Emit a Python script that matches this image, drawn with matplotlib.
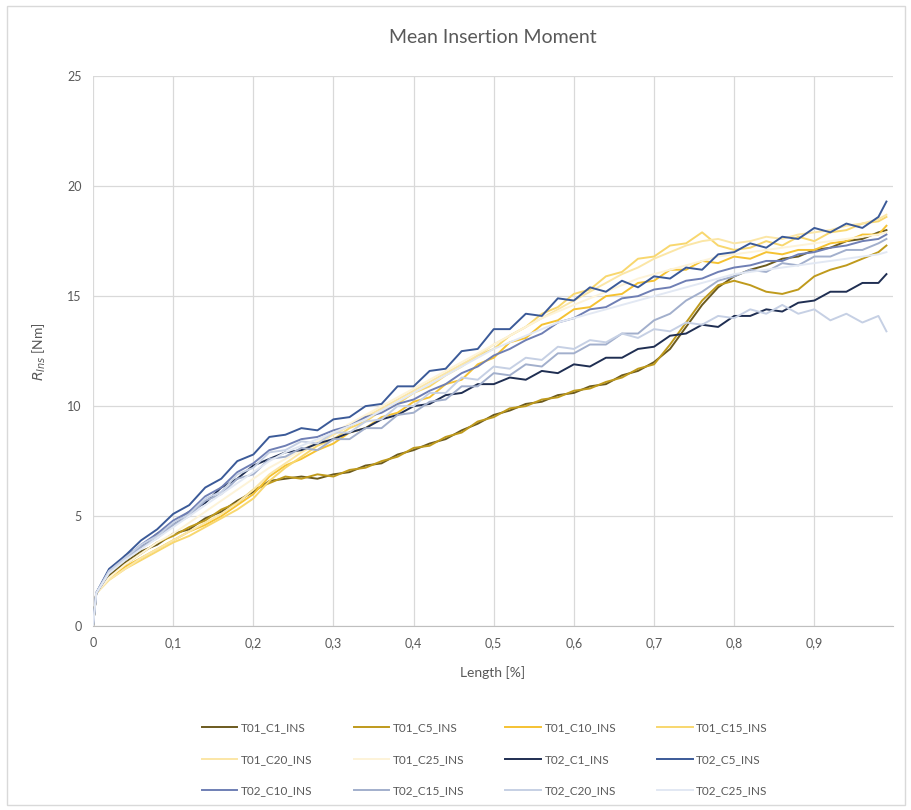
import matplotlib.pyplot as plt
from matplotlib.patches import Rectangle

plt.rcParams['font.family'] = ['Lato', 'DejaVu Sans']

# sampling positions along the insertion length
x_len = [0, 0.004, 0.02, 0.04, 0.06, 0.08, 0.10, 0.12, 0.14, 0.16, 0.18, 0.20,
         0.22, 0.24, 0.26, 0.28, 0.30, 0.32, 0.34, 0.36, 0.38, 0.40, 0.42, 0.44,
         0.46, 0.48, 0.50, 0.52, 0.54, 0.56, 0.58, 0.60, 0.62, 0.64, 0.66, 0.68,
         0.70, 0.72, 0.74, 0.76, 0.78, 0.80, 0.82, 0.84, 0.86, 0.88, 0.90, 0.92,
         0.94, 0.96, 0.98, 0.99]

t01_c1 = [0, 1.5, 2.3, 2.9, 3.4, 3.7, 4.2, 4.4, 4.9, 5.2, 5.7, 6.1, 6.6, 6.7, 6.8, 6.7,
          6.9, 7.0, 7.3, 7.4, 7.8, 8.0, 8.3, 8.5, 8.9, 9.2, 9.6, 9.8, 10.1, 10.2, 10.5,
          10.6, 10.9, 11.0, 11.4, 11.6, 12.0, 12.6, 13.6, 14.6, 15.4, 15.9, 16.2, 16.4,
          16.7, 16.8, 17.1, 17.2, 17.5, 17.6, 17.9, 18.0]
t01_c5 = [0, 1.5, 2.2, 2.8, 3.3, 3.8, 4.1, 4.5, 4.8, 5.3, 5.6, 6.2, 6.5, 6.8, 6.7, 6.9,
          6.8, 7.1, 7.2, 7.5, 7.7, 8.1, 8.2, 8.6, 8.8, 9.3, 9.5, 9.9, 10.0, 10.3, 10.4,
          10.7, 10.8, 11.1, 11.3, 11.7, 11.9, 12.8, 13.8, 14.8, 15.5, 15.7, 15.5, 15.2,
          15.1, 15.3, 15.9, 16.2, 16.4, 16.7, 17.0, 17.3]
t01_c10 = [0, 1.5, 2.2, 2.7, 3.1, 3.5, 3.9, 4.3, 4.6, 5.0, 5.5, 6.0, 6.8, 7.3, 7.6, 8.0,
           8.3, 8.8, 9.0, 9.5, 9.7, 10.2, 10.4, 11.0, 11.2, 11.9, 12.2, 12.9, 13.1, 13.7,
           13.9, 14.4, 14.5, 15.0, 15.1, 15.6, 15.7, 16.2, 16.2, 16.6, 16.5, 16.8, 16.7,
           17.0, 16.9, 17.1, 17.1, 17.4, 17.5, 17.8, 17.8, 18.2]
t01_c15 = [0, 1.5, 2.1, 2.6, 3.0, 3.4, 3.8, 4.1, 4.5, 4.9, 5.3, 5.8, 6.6, 7.2, 7.7, 8.2,
           8.5, 9.0, 9.3, 9.8, 10.1, 10.6, 10.9, 11.4, 11.8, 12.3, 12.6, 13.2, 13.6, 14.2,
           14.5, 15.1, 15.3, 15.9, 16.1, 16.7, 16.8, 17.3, 17.4, 17.9, 17.3, 17.1, 17.2,
           17.5, 17.3, 17.7, 17.5, 17.9, 18.0, 18.3, 18.4, 18.6]
t01_c20 = [0, 1.5, 2.1, 2.6, 3.1, 3.5, 3.9, 4.3, 4.7, 5.1, 5.6, 6.2, 6.9, 7.4, 7.9, 8.3,
           8.7, 9.1, 9.5, 9.9, 10.3, 10.7, 11.1, 11.5, 11.9, 12.3, 12.8, 13.2, 13.6, 14.0,
           14.4, 14.8, 15.2, 15.6, 16.0, 16.3, 16.7, 17.0, 17.3, 17.5, 17.6, 17.4, 17.5,
           17.7, 17.6, 17.8, 17.9, 18.0, 18.2, 18.3, 18.5, 18.7]
t01_c25 = [0, 1.5, 2.2, 2.8, 3.3, 3.8, 4.2, 4.7, 5.2, 5.7, 6.2, 6.7, 7.2, 7.6, 8.0, 8.4,
           8.8, 9.2, 9.6, 10.0, 10.4, 10.8, 11.2, 11.6, 12.0, 12.4, 12.8, 13.2, 13.6, 14.0,
           14.3, 14.6, 14.9, 15.2, 15.5, 15.8, 16.0, 16.2, 16.4, 16.6, 16.8, 16.9, 17.0,
           17.1, 17.2, 17.3, 17.4, 17.5, 17.6, 17.7, 17.8, 17.9]
t02_c1 = [0, 1.5, 2.4, 3.2, 3.6, 4.2, 4.6, 5.2, 5.6, 6.3, 6.7, 7.3, 7.6, 7.9, 8.0, 8.3,
          8.5, 8.8, 9.0, 9.4, 9.6, 10.0, 10.1, 10.5, 10.6, 11.0, 11.0, 11.3, 11.2, 11.6,
          11.5, 11.9, 11.8, 12.2, 12.2, 12.6, 12.7, 13.2, 13.3, 13.7, 13.6, 14.1, 14.1,
          14.4, 14.3, 14.7, 14.8, 15.2, 15.2, 15.6, 15.6, 16.0]
t02_c5 = [0, 1.5, 2.6, 3.2, 3.9, 4.4, 5.1, 5.5, 6.3, 6.7, 7.5, 7.8, 8.6, 8.7, 9.0, 8.9,
          9.4, 9.5, 10.0, 10.1, 10.9, 10.9, 11.6, 11.7, 12.5, 12.6, 13.5, 13.5, 14.2, 14.1,
          14.9, 14.8, 15.4, 15.2, 15.7, 15.4, 15.9, 15.8, 16.3, 16.2, 16.9, 17.0, 17.4,
          17.2, 17.7, 17.6, 18.1, 17.9, 18.3, 18.1, 18.6, 19.3]
t02_c10 = [0, 1.5, 2.5, 3.1, 3.7, 4.2, 4.8, 5.2, 5.9, 6.3, 7.0, 7.4, 8.0, 8.2, 8.5, 8.6,
           8.9, 9.1, 9.5, 9.7, 10.1, 10.3, 10.7, 11.0, 11.5, 11.8, 12.3, 12.6, 13.0, 13.3,
           13.8, 14.0, 14.4, 14.5, 14.9, 15.0, 15.3, 15.4, 15.7, 15.8, 16.1, 16.3, 16.4,
           16.6, 16.6, 16.9, 17.0, 17.2, 17.3, 17.5, 17.6, 17.8]
t02_c15 = [0, 1.5, 2.5, 3.0, 3.6, 4.0, 4.6, 5.0, 5.7, 6.0, 6.7, 6.9, 7.6, 7.7, 8.1, 8.0,
           8.5, 8.5, 9.0, 9.0, 9.6, 9.7, 10.2, 10.3, 10.9, 10.9, 11.5, 11.4, 11.9, 11.8,
           12.4, 12.4, 12.8, 12.8, 13.3, 13.3, 13.9, 14.2, 14.8, 15.2, 15.7, 15.9, 16.2,
           16.1, 16.5, 16.4, 16.8, 16.8, 17.1, 17.1, 17.4, 17.6]
t02_c20 = [0, 1.5, 2.5, 3.1, 3.7, 4.1, 4.7, 5.1, 5.8, 6.1, 6.9, 7.2, 7.9, 8.0, 8.4, 8.3,
           8.8, 8.8, 9.3, 9.4, 10.0, 10.0, 10.6, 10.6, 11.3, 11.2, 11.8, 11.7, 12.2, 12.1,
           12.7, 12.6, 13.0, 12.9, 13.3, 13.1, 13.5, 13.4, 13.8, 13.7, 14.1, 14.0, 14.4,
           14.2, 14.6, 14.2, 14.4, 13.9, 14.2, 13.8, 14.1, 13.4]
t02_c25 = [0, 1.5, 2.4, 3.0, 3.5, 4.0, 4.5, 5.0, 5.5, 6.0, 6.5, 7.0, 7.5, 7.9, 8.2, 8.5,
           8.8, 9.1, 9.4, 9.8, 10.2, 10.6, 11.0, 11.4, 11.8, 12.2, 12.6, 12.9, 13.2, 13.5,
           13.8, 14.0, 14.2, 14.4, 14.6, 14.8, 15.0, 15.2, 15.4, 15.6, 15.8, 16.0, 16.1,
           16.2, 16.3, 16.4, 16.5, 16.6, 16.7, 16.8, 16.9, 17.0]

names = ['T01_C1_INS', 'T01_C5_INS', 'T01_C10_INS', 'T01_C15_INS', 'T01_C20_INS',
         'T01_C25_INS', 'T02_C1_INS', 'T02_C5_INS', 'T02_C10_INS', 'T02_C15_INS',
         'T02_C20_INS', 'T02_C25_INS']
series = [t01_c1, t01_c5, t01_c10, t01_c15, t01_c20, t01_c25,
          t02_c1, t02_c5, t02_c10, t02_c15, t02_c20, t02_c25]
colors = ['#6b5a1e', '#bf9a1c', '#f5c232', '#f8d76e', '#fbe6a6', '#fdf3d8',
          '#1f2e52', '#3b5a98', '#6f7fb4', '#a2afcc', '#c6d0e4', '#e2e8f3']

x_ticks = [0, 0.1, 0.2, 0.3, 0.4, 0.5, 0.6, 0.7, 0.8, 0.9]
x_tick_labels = ['0', '0,1', '0,2', '0,3', '0,4', '0,5', '0,6', '0,7', '0,8', '0,9']
y_ticks = [0, 5, 10, 15, 20, 25]

txt = '#595959'
fig = plt.figure(figsize=(9.12, 8.1), dpi=100)
ax = fig.add_axes([0.102, 0.227, 0.877, 0.679])

lines = []
for y, c, n in zip(series, colors, names):
    ln, = ax.plot(x_len, y, color=c, lw=1.4, label=n)
    lines.append(ln)

ax.set_xlim(0, 0.998)
ax.set_ylim(0, 25)
ax.set_xticks(x_ticks)
ax.set_xticklabels(x_tick_labels)
ax.set_yticks(y_ticks)
ax.grid(True, color='#d9d9d9', lw=0.9)
ax.set_axisbelow(True)
for s in ['top', 'right', 'left']:
    ax.spines[s].set_visible(False)
ax.spines['bottom'].set_color('#bfbfbf')
ax.tick_params(length=0, labelsize=9, colors=txt, pad=8)

ax.set_title('Mean Insertion Moment', fontsize=14, color=txt, pad=24)
ax.set_xlabel('Length [%]', fontsize=10, color=txt, labelpad=12)
ax.set_ylabel('$R_{Ins}$ [Nm]', fontsize=10, color=txt, labelpad=14)

# legend rows read left to right, matplotlib fills by column
order = [r * 4 + c for c in range(4) for r in range(3)]
ax.legend([lines[i] for i in order], [names[i] for i in order], ncol=4,
          loc='upper center', bbox_to_anchor=(0.49, -0.155), frameon=False,
          fontsize=8.5, labelcolor=txt, handlelength=3.0, columnspacing=3.5,
          handletextpad=0.3, labelspacing=1.75)

fig.patches.append(Rectangle((0.008, 0.006), 0.984, 0.986, transform=fig.transFigure,
                             fill=False, edgecolor='#d9d9d9', lw=1))

fig.savefig('out.png', dpi=100)
